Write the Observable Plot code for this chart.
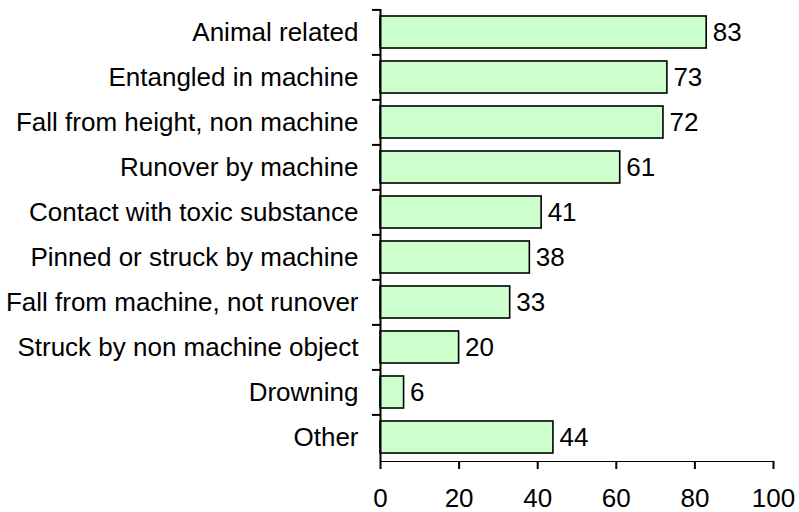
<!DOCTYPE html>
<html>
<head>
<meta charset="utf-8">
<script src="https://cdn.jsdelivr.net/npm/d3@7"></script>
<script src="https://cdn.jsdelivr.net/npm/@observablehq/plot@0.6"></script>
<style>
  html, body { margin: 0; padding: 0; background: #fff; }
</style>
</head>
<body>
<div id="chart"></div>
<script>
const categories = [
  "Animal related",
  "Entangled in machine",
  "Fall from height, non machine",
  "Runover by machine",
  "Contact with toxic substance",
  "Pinned or struck by machine",
  "Fall from machine, not runover",
  "Struck by non machine object",
  "Drowning",
  "Other"
];
const counts = [83, 73, 72, 61, 41, 38, 33, 20, 6, 44];
const xTicks = [0, 20, 40, 60, 80, 100];

const data = categories.map((c, i) => ({category: c, value: counts[i]}));

const W = 799, H = 512, mT = 9, mB = 51;
const step = (H - mT - mB) / categories.length;

const chart = Plot.plot({
  width: W,
  height: H,
  marginLeft: 380,
  marginRight: 26,
  marginTop: mT,
  marginBottom: mB,
  style: {fontFamily: "'Liberation Sans', Arial, sans-serif", fontSize: "26px", color: "#000", background: "#fff"},
  x: {domain: [0, 100], ticks: xTicks, label: null, tickSize: 8, tickPadding: 19, line: true},
  y: {domain: categories, paddingInner: 0.28, paddingOuter: 0.14, label: null, tickSize: 0, tickPadding: 22},
  marks: [
    Plot.barX(data, {x: "value", y: "category", fill: "#ccffcc", stroke: "#000", strokeWidth: 1.6}),
    Plot.ruleX([0], {stroke: "#000", strokeWidth: 2}),
    Plot.ruleY(categories, {y: d => d, x1: -2.05, x2: 0, dy: -step / 2, stroke: "#000", strokeWidth: 2}),
    Plot.text(data, {x: "value", y: "category", text: d => String(d.value), textAnchor: "start", dx: 6, fill: "#000", fontSize: 26})
  ]
});
chart.querySelectorAll("[aria-label='x-axis tick'] path, [aria-label='x-axis line'] path, [aria-label='x-axis domain'] path").forEach(p => p.setAttribute("stroke-width", 2));
document.getElementById("chart").appendChild(chart);
</script>
</body>
</html>
